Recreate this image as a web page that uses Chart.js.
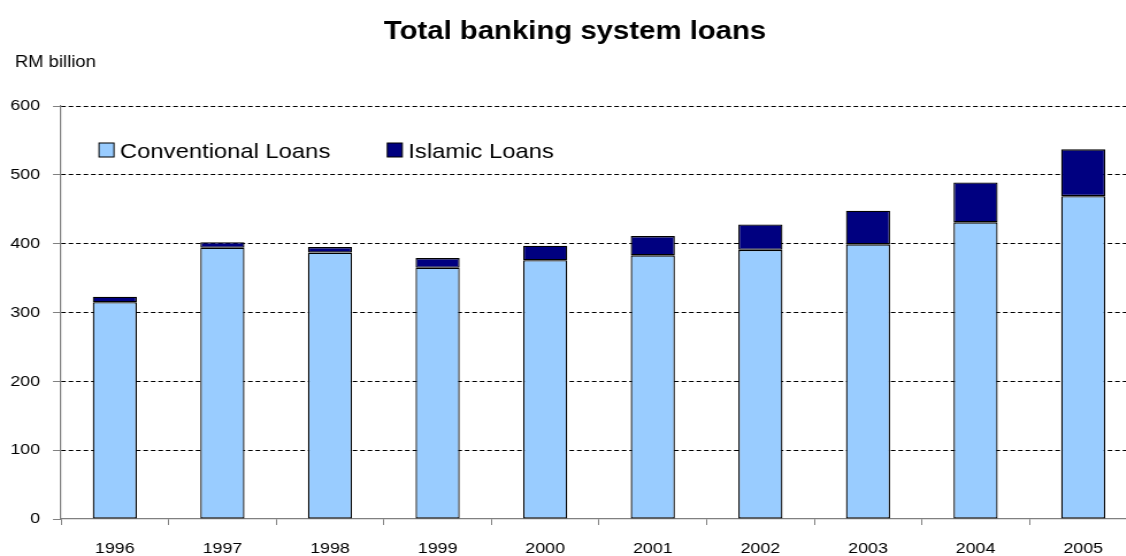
<!DOCTYPE html>
<html>
<head>
<meta charset="utf-8">
<title>Total banking system loans</title>
<script src="https://cdn.jsdelivr.net/npm/chart.js@4/dist/chart.umd.min.js"></script>
<style>
  html, body { margin: 0; padding: 0; background: #fff; overflow: hidden; }
  #frame { position: relative; width: 1126px; height: 556px; overflow: hidden; background: #fff; }
  #stretch { position: absolute; left: 0; top: 0; transform-origin: 0 0; }
</style>
</head>
<body>
<div id="frame"><div id="stretch"><canvas id="chart"></canvas></div></div>
<script>
// Loans of the banking system, RM billion
const years = ['1996', '1997', '1998', '1999', '2000', '2001', '2002', '2003', '2004', '2005'];
const conventionalLoans = [315, 394, 387, 365, 376, 383, 391, 399, 431, 469];
const islamicLoans = [8, 8, 8, 14, 21, 28, 37, 49, 58, 68];
const yTicks = [0, 100, 200, 300, 400, 500, 600];
const seriesNames = ['Conventional Loans', 'Islamic Loans'];
const seriesColors = ['#99CCFF', '#000080'];
const chartTitle = 'Total banking system loans';
const unitLabel = 'RM billion';

// The drawing is widened horizontally by this factor on screen
const SX = 1.15;
const W = Math.ceil(1140 / SX);
const H = 556;
const px = v => v / SX; // screen x distance -> canvas x distance
const FONT = '"Liberation Sans", Arial, Helvetica, sans-serif';

const canvas = document.getElementById('chart');
canvas.width = W;
canvas.height = H;
canvas.style.width = W + 'px';
canvas.style.height = H + 'px';
const stretch = document.getElementById('stretch');
stretch.style.width = W + 'px';
stretch.style.height = H + 'px';
stretch.style.transform = 'scaleX(' + SX + ')';

// Title, unit caption and the in-plot legend
const headerPlugin = {
  id: 'header',
  afterDraw(chart) {
    const ctx = chart.ctx;
    ctx.save();
    ctx.fillStyle = '#000';
    ctx.textBaseline = 'alphabetic';

    ctx.font = 'bold 25.5px ' + FONT;
    ctx.textAlign = 'center';
    ctx.fillText(chartTitle, px(575), 39);

    ctx.font = '16px ' + FONT;
    ctx.textAlign = 'left';
    ctx.fillText(unitLabel, px(15), 67);

    ctx.font = '20.7px ' + FONT;
    let x = px(99);
    const boxTop = 143, boxH = 14, baseline = 157.5;
    chart.data.datasets.forEach(ds => {
      ctx.fillStyle = ds.backgroundColor;
      ctx.fillRect(x, boxTop, px(15), boxH);
      ctx.strokeStyle = '#000';
      ctx.lineWidth = 1;
      ctx.strokeRect(x, boxTop, px(15), boxH);
      ctx.fillStyle = '#000';
      const tx = x + px(21);
      ctx.fillText(ds.label, tx, baseline);
      x = tx + ctx.measureText(ds.label).width + px(57);
    });
    ctx.restore();
  }
};

const makeSet = (i, values) => ({
  label: seriesNames[i],
  data: values,
  backgroundColor: seriesColors[i],
  borderColor: '#000',
  borderWidth: 1.3,
  borderSkipped: false,
  barPercentage: 0.41,
  categoryPercentage: 1
});

new Chart(canvas, {
  type: 'bar',
  data: {
    labels: years,
    datasets: [makeSet(0, conventionalLoans), makeSet(1, islamicLoans)]
  },
  options: {
    responsive: false,
    animation: false,
    devicePixelRatio: 1,
    layout: { padding: { top: 106, right: W - px(1137), bottom: 0, left: 0 } },
    plugins: {
      legend: { display: false },
      title: { display: false },
      tooltip: { enabled: false }
    },
    scales: {
      x: {
        stacked: true,
        grid: {
          offset: true,
          drawOnChartArea: false,
          drawTicks: true,
          tickLength: 6,
          color: '#808080',
          lineWidth: 1
        },
        border: { display: true, color: '#808080', width: 1.2 },
        ticks: {
          color: '#000',
          font: { family: FONT, size: 15.5 },
          padding: 14,
          maxRotation: 0,
          autoSkip: false
        },
        afterFit(scale) { scale.height = 37; }
      },
      y: {
        stacked: true,
        min: 0,
        max: 600,
        afterBuildTicks(scale) { scale.ticks = yTicks.map(v => ({ value: v })); },
        grid: {
          color: c => (c.tick && c.tick.value === 0 ? 'rgba(0,0,0,0)' : '#000'),
          lineWidth: 1,
          drawTicks: true,
          tickLength: px(8),
          tickColor: '#808080',
          tickWidth: 1
        },
        border: { display: true, color: '#808080', width: 1.2, dash: [4, 2.5] },
        ticks: {
          color: '#000',
          font: { family: FONT, size: 15.5 },
          padding: px(13)
        },
        afterFit(scale) { scale.width = px(61); }
      }
    }
  },
  plugins: [headerPlugin]
});
</script>
</body>
</html>
